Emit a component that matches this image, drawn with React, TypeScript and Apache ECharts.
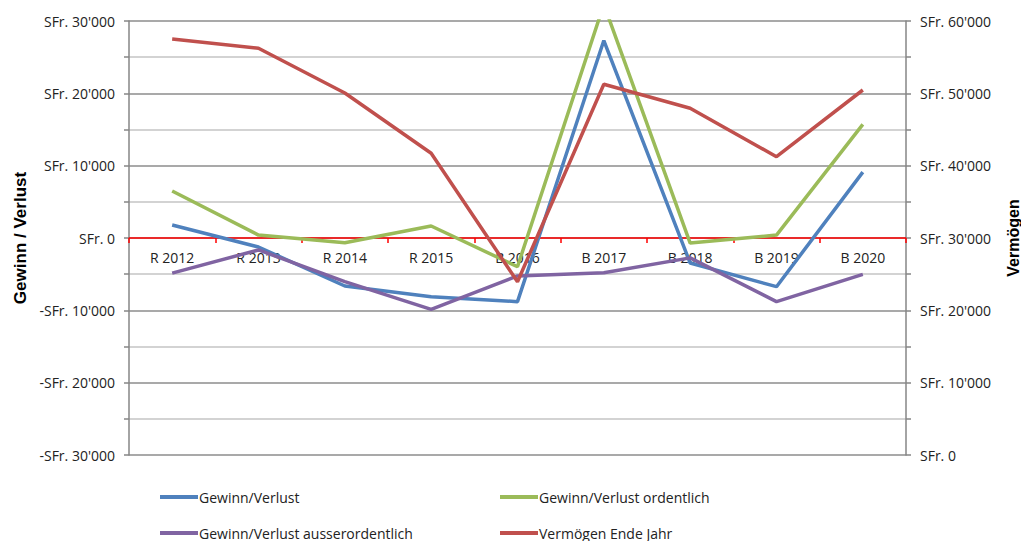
import React, { useEffect, useRef } from "react";
import * as echarts from "echarts";

const categories = ["R 2012", "R 2013", "R 2014", "R 2015", "B 2016", "B 2017", "B 2018", "B 2019", "B 2020"];
const gewinnVerlust = [1800, -1250, -6640, -8110, -8800, 27300, -3460, -6730, 9100];
const gewinnOrdentlich = [6500, 400, -650, 1660, -3970, 32300, -700, 400, 15700];
const gewinnAusserordentlich = [-4850, -1650, -6040, -9860, -5250, -4800, -2750, -8800, -5030];
const vermoegen = [57500, 56230, 50050, 41710, 23960, 51250, 47930, 41240, 50460];

const seriesNames = ["Gewinn/Verlust", "Gewinn/Verlust ordentlich", "Gewinn/Verlust ausserordentlich", "Vermögen Ende Jahr"];
const colors = ["#4F81BD", "#9BBB59", "#8064A2", "#C0504D"];

const fmt = (v: number) => {
  const s = Math.abs(v).toString().replace(/\B(?=(\d{3})+(?!\d))/g, "'");
  return (v < 0 ? "-" : "") + "SFr. " + s;
};

const FONT = "Open Sans";

export default function App() {
  const ref = useRef<HTMLDivElement>(null);
  useEffect(() => {
    document.body.style.margin = "0";
    const chart = echarts.init(ref.current!, undefined, { renderer: "svg" });
    const legendPos = [
      { left: 160, top: 490 },
      { left: 500, top: 490 },
      { left: 160, top: 526 },
      { left: 500, top: 526 },
    ];
    chart.setOption({
      animation: false,
      textStyle: { fontFamily: FONT },
      grid: { left: 129, right: 115, top: 21, bottom: 86, outerBoundsMode: "none", containLabel: false },
      legend: seriesNames.map((n, i) => ({
        data: [n],
        left: legendPos[i].left,
        top: legendPos[i].top,
        icon: "rect",
        itemWidth: 38,
        itemHeight: 4,
        itemGap: 0,
        padding: 0,
        textStyle: { fontFamily: FONT, fontSize: 14, color: "#222", padding: [0, 0, 0, -4] },
      })),
      xAxis: {
        type: "category",
        data: categories,
        boundaryGap: true,
        axisLine: { onZero: true, lineStyle: { color: "#FF0000", width: 1.5 } },
        axisTick: { show: true, length: 5, inside: false, lineStyle: { color: "#FF0000", width: 1.5 } },
        axisLabel: { color: "#222", fontSize: 14, margin: -205, fontFamily: FONT },
        splitLine: { show: false },
      },
      yAxis: [
        {
          type: "value",
          min: -30000,
          max: 30000,
          interval: 5000,
          name: "Gewinn / Verlust",
          nameLocation: "middle",
          nameGap: 97,
          nameTextStyle: { fontFamily: "Liberation Sans", fontWeight: "bold", fontSize: 17, color: "#000" },
          axisLine: { show: true, lineStyle: { color: "#868686", width: 1.5 } },
          axisTick: { show: true, length: 5, lineStyle: { color: "#868686", width: 1.5 } },
          axisLabel: {
            color: "#222",
            fontSize: 14,
            margin: 14,
            formatter: (v: number) => (v % 10000 === 0 ? fmt(v) : ""),
          },
          splitLine: { show: true, lineStyle: { color: ["#8c8c8c", "#c4c4c4"], width: 1.5 } },
        },
        {
          type: "value",
          min: 0,
          max: 60000,
          interval: 5000,
          name: "Vermögen",
          nameLocation: "middle",
          nameGap: 99,
          nameTextStyle: { fontFamily: "Liberation Sans", fontWeight: "bold", fontSize: 16, color: "#000" },
          axisLine: { show: true, lineStyle: { color: "#868686", width: 1.5 } },
          axisTick: { show: true, length: 5, lineStyle: { color: "#868686", width: 1.5 } },
          axisLabel: {
            color: "#222",
            fontSize: 14,
            margin: 14,
            formatter: (v: number) => (v % 10000 === 0 ? fmt(v) : ""),
          },
          splitLine: { show: false },
        },
      ],
      series: [
        { name: seriesNames[0], data: gewinnVerlust, yAxisIndex: 0 },
        { name: seriesNames[1], data: gewinnOrdentlich, yAxisIndex: 0 },
        { name: seriesNames[2], data: gewinnAusserordentlich, yAxisIndex: 0 },
        { name: seriesNames[3], data: vermoegen, yAxisIndex: 1 },
      ].map((s, i) => ({
        ...s,
        type: "line",
        showSymbol: false,
        symbol: "none",
        clip: true,
        color: colors[i],
        lineStyle: { color: colors[i], width: 3.5 },
      })),
    });
    return () => chart.dispose();
  }, []);
  return <div ref={ref} style={{ width: 1021, height: 541 }} />;
}
